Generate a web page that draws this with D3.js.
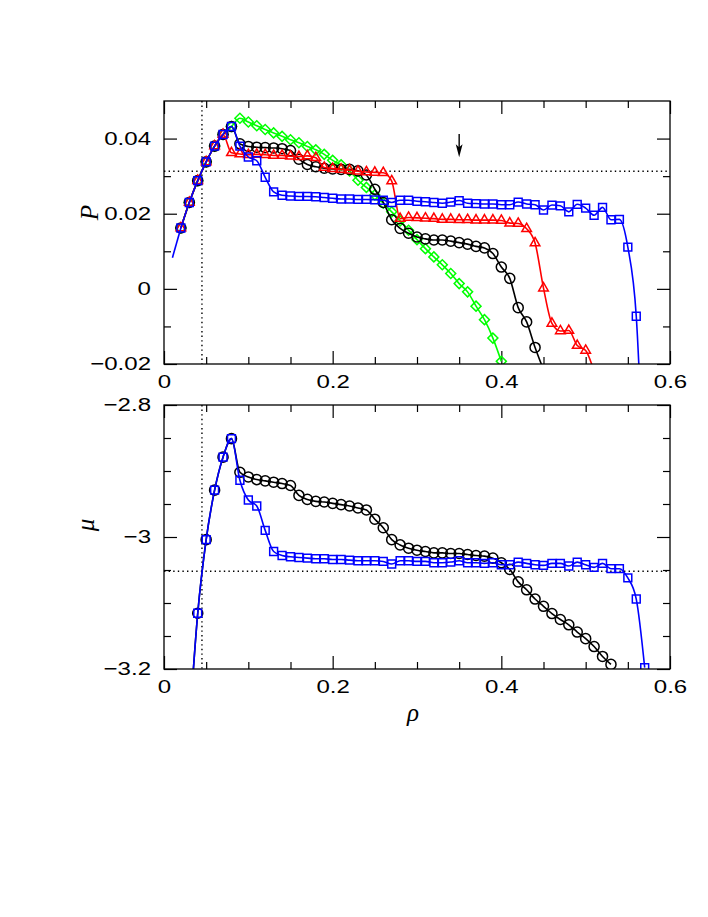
<!DOCTYPE html>
<html><head><meta charset="utf-8">
<script src="https://cdn.jsdelivr.net/npm/d3@7"></script>
<style>body{margin:0;background:#fff} svg{display:block;background:#fff}</style>
</head><body><svg id="c" width="708" height="917"></svg>
<script>
// ---------- DATA ----------
// Top panel: pressure P vs density rho
const blackRho = [0.02,0.03,0.04,0.05,0.06,0.07,0.08,0.09,0.10,0.11,0.12,0.13,0.14,0.15,0.16,0.17,0.18,0.19,0.20,0.21,0.22,0.23,0.24,0.25,0.26,0.27,0.28,0.29,0.30,0.31,0.32,0.33,0.34,0.35,0.36,0.37,0.38,0.39,0.40,0.41,0.42,0.43,0.44,0.45];
const blackP = [0.0162,0.0230,0.0288,0.0338,0.0380,0.0411,0.0432,
  0.0386,0.0379,0.0377,0.0376,0.0375,0.0373,0.0368,0.0345,0.0331,0.0325,
  0.0321,0.0319,0.0318,0.0318,0.0314,0.0303,0.0265,0.0230,0.0184,0.0161,
  0.0148,0.0138,0.0133,0.0130,0.0130,0.0127,0.0123,0.0119,0.0113,0.0109,
  0.0094,0.0058,0.0028,-0.0050,-0.0088,-0.0156,-0.0215];

const redRho = [0.02,0.03,0.04,0.05,0.06,0.07,0.08,0.09,0.10,0.11,0.12,0.13,0.14,0.15,0.16,0.17,0.18,0.19,0.20,0.21,0.22,0.23,0.24,0.25,0.26,0.27,0.28,0.29,0.30,0.31,0.32,0.33,0.34,0.35,0.36,0.37,0.38,0.39,0.40,0.41,0.42,0.43,0.44,0.45,0.46,0.47,0.48,0.49,0.50,0.51];
const redP = [0.0162,0.0230,0.0288,0.0338,0.0380,0.0411,
  0.0362,0.0359,0.0357,0.0358,0.0357,0.0355,0.0355,0.0353,0.0352,0.0354,0.0349,
  0.0323,0.0320,0.0318,0.0316,0.0313,0.0311,0.0310,0.0309,0.0287,0.0187,
  0.0190,0.0189,0.0188,0.0187,0.0185,0.0185,0.0184,0.0184,0.0183,0.0183,
  0.0183,0.0182,0.0175,0.0174,0.0160,0.0122,0.0002,-0.0092,-0.0112,-0.0111,
  -0.0151,-0.0164,-0.0220];

const greenRho = [0.02,0.03,0.04,0.05,0.06,0.07,0.08,0.09,0.10,0.11,0.12,0.13,0.14,0.15,0.16,0.17,0.18,0.19,0.20,0.21,0.22,0.23,0.24,0.25,0.26,0.27,0.28,0.29,0.30,0.31,0.32,0.33,0.34,0.35,0.36,0.37,0.38,0.39,0.40];
const greenP = [0.0162,0.0230,0.0288,0.0338,0.0380,0.0411,0.0432,
  0.0454,0.0444,0.0434,0.0424,0.0415,0.0406,0.0397,0.0389,0.0379,0.0370,
  0.0358,0.0342,0.0330,0.0314,0.0289,0.0270,0.0250,0.0228,0.0205,0.0181,
  0.0156,0.0131,0.0107,0.0085,0.0064,0.0041,0.0014,-0.0008,-0.0046,-0.0082,
  -0.0131,-0.0193];

const blueRho = [0.02,0.03,0.04,0.05,0.06,0.07,0.08,0.09,0.10,0.11,0.12,0.13,0.14,0.15,0.16,0.17,0.18,0.19,0.20,0.21,0.22,0.23,0.24,0.25,0.26,0.27,0.28,0.29,0.30,0.31,0.32,0.33,0.34,0.35,0.36,0.37,0.38,0.39,0.40,0.41,0.42,0.43,0.44,0.45,0.46,0.47,0.48,0.49,0.50,0.51,0.52,0.53,0.54,0.55,0.56,0.57];
const blueP = [0.0162,0.0230,0.0288,0.0338,0.0380,0.0411,0.0432,
  0.0380,0.0351,0.0341,0.0297,0.0258,0.0249,0.0247,0.0246,0.0246,0.0245,
  0.0243,0.0241,0.0239,0.0239,0.0238,0.0238,0.0237,0.0236,0.0230,0.0236,
  0.0236,0.0233,0.0232,0.0230,0.0228,0.0231,0.0235,0.0228,0.0227,0.0226,
  0.0226,0.0224,0.0224,0.0231,0.0226,0.0224,0.0210,0.0223,0.0221,0.0205,
  0.0225,0.0215,0.0196,0.0217,0.0184,0.0185,0.0111,-0.0073,-0.0580];

// low-density tail of the blue curve (line only, no marker)
const tailRho = [0.01,0.02];
const tailP = [0.0083,0.0162];

// Bottom panel: chemical potential mu vs density rho
const blackMuRho = [0.03,0.04,0.05,0.06,0.07,0.08,0.09,0.10,0.11,0.12,0.13,0.14,0.15,0.16,0.17,0.18,0.19,0.20,0.21,0.22,0.23,0.24,0.25,0.26,0.27,0.28,0.29,0.30,0.31,0.32,0.33,0.34,0.35,0.36,0.37,0.38,0.39,0.40,0.41,0.42,0.43,0.44,0.45,0.46,0.47,0.48,0.49,0.50,0.51,0.52,0.53];
const blackMu = [-3.29,-3.1155,-3.004,-2.929,-2.879,-2.851,
  -2.902,-2.909,-2.913,-2.915,-2.917,-2.919,-2.922,-2.937,-2.943,-2.946,
  -2.947,-2.949,-2.951,-2.953,-2.956,-2.959,-2.973,-2.986,-3.004,-3.012,
  -3.017,-3.020,-3.022,-3.024,-3.024,-3.025,-3.025,-3.0265,-3.028,-3.029,
  -3.032,-3.039,-3.049,-3.068,-3.080,-3.094,-3.105,-3.116,-3.125,-3.133,
  -3.144,-3.154,-3.166,-3.181,-3.193];

const blueMuRho = [0.03,0.04,0.05,0.06,0.07,0.08,0.09,0.10,0.11,0.12,0.13,0.14,0.15,0.16,0.17,0.18,0.19,0.20,0.21,0.22,0.23,0.24,0.25,0.26,0.27,0.28,0.29,0.30,0.31,0.32,0.33,0.34,0.35,0.36,0.37,0.38,0.39,0.40,0.41,0.42,0.43,0.44,0.45,0.46,0.47,0.48,0.49,0.50,0.51,0.52,0.53,0.54,0.55,0.56,0.57];
const blueMu = [-3.29,-3.1155,-3.004,-2.929,-2.879,-2.851,
  -2.914,-2.944,-2.953,-2.990,-3.022,-3.028,-3.030,-3.031,-3.032,-3.033,
  -3.033,-3.034,-3.034,-3.035,-3.036,-3.036,-3.036,-3.037,-3.041,-3.036,
  -3.036,-3.037,-3.037,-3.039,-3.039,-3.038,-3.036,-3.039,-3.039,-3.040,
  -3.039,-3.042,-3.042,-3.038,-3.040,-3.042,-3.043,-3.040,-3.040,-3.044,
  -3.038,-3.042,-3.046,-3.040,-3.048,-3.048,-3.062,-3.094,-3.198];

// reference lines and annotation
const rhoStar = 0.045;
const pCoex = 0.0313;
const muCoex = -3.052;
const arrowRho = 0.35, arrowFrom = 0.0412, arrowTo = 0.0350;

// ticks
const xMajor = [0, 0.2, 0.4, 0.6];
const xMinor = [0.05, 0.1, 0.15, 0.25, 0.3, 0.35, 0.45, 0.5, 0.55];
const pMajor = [-0.02, 0, 0.02, 0.04];
const pMinor = [-0.01, 0.01, 0.03];
const muMajor = [-3.2, -3, -2.8];
const muMinor = [-3.15, -3.1, -3.05, -2.95, -2.9, -2.85];

// ---------- DRAWING ----------
const svg = d3.select("#c");
const L = 164, R = 670;
const topPanel = {t: 101, b: 364};
const botPanel = {t: 405, b: 669};

const x = d3.scaleLinear().domain([0, 0.6]).range([L, R]);
const yP = d3.scaleLinear().domain([-0.02, 0.05]).range([topPanel.b, topPanel.t]);
const yM = d3.scaleLinear().domain([-3.2, -2.8]).range([botPanel.b, botPanel.t]);

const fmt = d => d === 0 ? "0" : (d < 0 ? "\u2212" : "") + String(Math.abs(d));
const SX = 1.3;

function styleLabels(g) {
  g.selectAll("text").each(function () {
    const t = d3.select(this);
    const xv = +t.attr("x") || 0;
    t.attr("x", xv / SX).attr("transform", `scale(${SX},1)`);
  });
  g.attr("font-family", "'Liberation Sans', Arial, sans-serif").attr("font-size", 18.5).attr("fill", "#000");
  g.selectAll("text").attr("fill", "#000");
  g.selectAll("line").attr("stroke", "#000").attr("stroke-width", 1.2);
  g.select(".domain").remove();
}

function drawFrame(panel, y, yMaj, yMin, id) {
  const gx = (axisFn, vals, size, labels, tr) => {
    const a = axisFn.tickValues(vals).tickSize(size).tickPadding(labels ? 11 : 0)
      .tickFormat(labels ? fmt : () => "");
    const g = svg.append("g").attr("transform", tr).call(a);
    styleLabels(g);
    return g;
  };
  gx(d3.axisBottom(x), xMajor, -13, true, `translate(0,${panel.b})`);
  gx(d3.axisBottom(x), xMinor, -7, false, `translate(0,${panel.b})`);
  gx(d3.axisTop(x), xMajor, -13, false, `translate(0,${panel.t})`);
  gx(d3.axisTop(x), xMinor, -7, false, `translate(0,${panel.t})`);
  const gl = svg.append("g").attr("transform", `translate(${L},0)`)
    .call(d3.axisLeft(y).tickValues(yMaj).tickSize(-13).tickPadding(13).tickFormat(fmt));
  styleLabels(gl);
  const gl2 = svg.append("g").attr("transform", `translate(${L},0)`)
    .call(d3.axisLeft(y).tickValues(yMin).tickSize(-7).tickFormat(() => ""));
  styleLabels(gl2);
  const gr = svg.append("g").attr("transform", `translate(${R},0)`)
    .call(d3.axisRight(y).tickValues(yMaj).tickSize(-13).tickFormat(() => ""));
  styleLabels(gr);
  const gr2 = svg.append("g").attr("transform", `translate(${R},0)`)
    .call(d3.axisRight(y).tickValues(yMin).tickSize(-7).tickFormat(() => ""));
  styleLabels(gr2);
  svg.append("clipPath").attr("id", id).append("rect")
    .attr("x", L).attr("y", panel.t).attr("width", R - L).attr("height", panel.b - panel.t);
}

drawFrame(topPanel, yP, pMajor, pMinor, "clipTop");
drawFrame(botPanel, yM, muMajor, muMinor, "clipBot");

function dotted(g, x1, y1, x2, y2) {
  g.append("line").attr("x1", x1).attr("y1", y1).attr("x2", x2).attr("y2", y2)
    .attr("stroke", "#000").attr("stroke-width", 1.4).attr("stroke-dasharray", "1.4,3.2");
}
const gTop = svg.append("g").attr("clip-path", "url(#clipTop)");
const gBot = svg.append("g").attr("clip-path", "url(#clipBot)");
dotted(gTop, x(rhoStar), topPanel.t, x(rhoStar), topPanel.b);
dotted(gTop, L, yP(pCoex), R, yP(pCoex));
dotted(gBot, x(rhoStar), botPanel.t, x(rhoStar), botPanel.b);
dotted(gBot, L, yM(muCoex), R, yM(muCoex));

const symCircle = d3.symbol(d3.symbolCircle, 80)();
const symTri = d3.symbol(d3.symbolTriangle, 40)();
const symSquare = d3.symbol(d3.symbolSquare, 62)();
const symDiamond = d3.symbol(d3.symbolSquare, 50)();

function series(g, xs, ys, yScale, color, sym, rot) {
  const pts = xs.map((r, i) => [r, ys[i]]);
  const line = d3.line().x(d => x(d[0])).y(d => yScale(d[1])).curve(d3.curveMonotoneX);
  g.append("path").attr("d", line(pts)).attr("fill", "none")
    .attr("stroke", color).attr("stroke-width", 1.6).attr("stroke-linejoin", "round");
  g.selectAll(null).data(pts).enter().append("path")
    .attr("d", sym)
    .attr("transform", d => `translate(${x(d[0])},${yScale(d[1])})` + (rot ? ` rotate(${rot})` : ""))
    .attr("fill", "none").attr("stroke", color).attr("stroke-width", 1.5);
}

series(gTop, greenRho, greenP, yP, "#00ff00", symDiamond, 45);
series(gTop, blackRho, blackP, yP, "#000000", symCircle, 0);
series(gTop, redRho, redP, yP, "#ff0000", symTri, 0);
series(gTop, blueRho, blueP, yP, "#0000ff", symSquare, 0);
gTop.append("path")
  .attr("d", d3.line().x((d, i) => x(tailRho[i])).y((d, i) => yP(tailP[i]))(tailRho))
  .attr("fill", "none").attr("stroke", "#0000ff").attr("stroke-width", 1.6);

series(gBot, blackMuRho, blackMu, yM, "#000000", symCircle, 0);
series(gBot, blueMuRho, blueMu, yM, "#0000ff", symSquare, 0);

// arrow
const ax = x(arrowRho), ay1 = yP(arrowFrom), ay2 = yP(arrowTo);
svg.append("line").attr("x1", ax).attr("x2", ax).attr("y1", ay1).attr("y2", ay2 - 6)
  .attr("stroke", "#000").attr("stroke-width", 1.4);
svg.append("path")
  .attr("d", `M${ax},${ay2} L${ax - 3.4},${ay2 - 13} L${ax},${ay2 - 10} L${ax + 3.4},${ay2 - 13} Z`)
  .attr("fill", "#000");

[topPanel, botPanel].forEach(p => {
  svg.append("rect").attr("x", L).attr("y", p.t).attr("width", R - L).attr("height", p.b - p.t)
    .attr("fill", "none").attr("stroke", "#000").attr("stroke-width", 1.3);
});

const serif = "'Liberation Serif', 'Times New Roman', serif";
svg.append("text").text("P")
  .attr("transform", `translate(98,${(topPanel.t + topPanel.b) / 2 - 20}) rotate(-90)`)
  .attr("text-anchor", "middle").attr("font-family", serif).attr("font-style", "italic")
  .attr("font-size", 25).attr("fill", "#000");
svg.append("text").text("\u03BC")
  .attr("transform", `translate(94,${(botPanel.t + botPanel.b) / 2 - 12}) rotate(-90)`)
  .attr("text-anchor", "middle").attr("font-family", serif).attr("font-style", "italic")
  .attr("font-size", 25).attr("fill", "#000");
svg.append("text").text("\u03C1")
  .attr("x", (L + R) / 2 - 4).attr("y", 721)
  .attr("text-anchor", "middle").attr("font-family", serif).attr("font-style", "italic")
  .attr("font-size", 25).attr("fill", "#000");
</script>
</body></html>
